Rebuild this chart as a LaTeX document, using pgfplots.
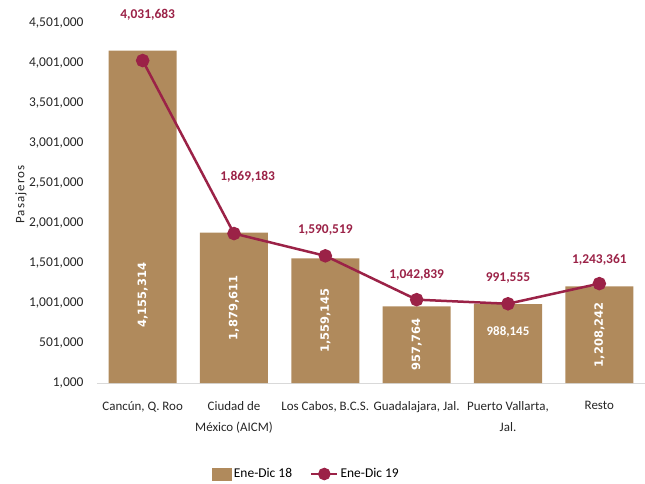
\documentclass[border=0pt]{standalone}
\usepackage{fontspec}
\setmainfont{Carlito}
\newfontfamily\dejavu{DejaVu Sans}
\usepackage{pgfplots}
\pgfplotsset{compat=1.18}
\definecolor{barcol}{HTML}{B08A5C}
\definecolor{linecol}{HTML}{9B2247}
\definecolor{gridcol}{HTML}{D9D9D9}

\begin{document}
\begin{tikzpicture}[x=1bp,y=1bp]
\useasboundingbox (-97bp,-101bp) rectangle (548bp,383bp);
\begin{axis}[
    at={(0,0)}, anchor=south west,
    scale only axis, width=548bp, height=360bp,
    xmin=-0.5, xmax=5.5, ymin=1000, ymax=4501000,
    axis x line*=bottom, axis y line=none,
    clip=false,
    xtick=data,
    xticklabels={Cancún{,} Q. Roo, Ciudad de\\México (AICM), {Los Cabos, B.C.S.}, {Guadalajara, Jal.}, Puerto Vallarta{,}\\Jal., Resto},
    xticklabel style={font=\fontsize{13}{21}\selectfont, align=center, text=black!85, yshift=-15bp},
    x axis line style={draw=gridcol},
    major x tick style={draw=none},
    ytick={1000,501000,...,4501000},
    ymajorgrids, grid style={gridcol, line width=0.8bp},
    legend style={at={(0.382,-0.2528)}, anchor=center, draw=none, legend columns=2,
        font=\fontsize{13.5}{15}\selectfont, /tikz/every even column/.append style={column sep=16bp}},
]
\addplot[fill=barcol, draw=none, ybar, bar width=68bp, bar shift=0,
    legend image code/.code={\fill[barcol] (0bp,-6.5bp) rectangle (20bp,6.5bp);}]
    coordinates {(0,4155314) (1,1879611) (2,1559145) (3,957764) (4,988145) (5,1208242)};
\addlegendentry{Ene-Dic 18}
\addplot[linecol, line width=2.5bp, mark=*, mark size=5.5bp,
    legend image code/.code={\draw[linecol, line width=2.5bp] (0bp,0bp) -- (26bp,0bp);
        \fill[linecol] (13bp,0bp) circle (5bp);}]
    coordinates {(0,4031683) (1,1869183) (2,1590519) (3,1042839) (4,991555) (5,1243361)};
\addlegendentry{Ene-Dic 19}

% y tick labels
\begin{scope}[every node/.style={anchor=east, font=\fontsize{13.5}{15}\selectfont, text=black!85}]
\node at ([xshift=-10bp]axis cs:-0.5,1000) {1,000};
\node at ([xshift=-10bp]axis cs:-0.5,501000) {501,000};
\node at ([xshift=-10bp]axis cs:-0.5,1001000) {1,001,000};
\node at ([xshift=-10bp]axis cs:-0.5,1501000) {1,501,000};
\node at ([xshift=-10bp]axis cs:-0.5,2001000) {2,001,000};
\node at ([xshift=-10bp]axis cs:-0.5,2501000) {2,501,000};
\node at ([xshift=-10bp]axis cs:-0.5,3001000) {3,001,000};
\node at ([xshift=-10bp]axis cs:-0.5,3501000) {3,501,000};
\node at ([xshift=-10bp]axis cs:-0.5,4001000) {4,001,000};
\node at ([xshift=-10bp]axis cs:-0.5,4501000) {4,501,000};
\end{scope}

% y label
\node[rotate=90, font=\fontsize{13}{14}\selectfont\addfontfeatures{LetterSpace=8}, text=black!85] at ([xshift=-76bp]axis cs:-0.5,2355000) {Pasajeros};

% bar value labels
\begin{scope}[every node/.style={text=white, font=\dejavu\bfseries\fontsize{11.5}{13}\selectfont}]
\node[rotate=90] at (axis cs:0,1100000) {4,155,314};
\node[rotate=90] at (axis cs:1,940000) {1,879,611};
\node[rotate=90] at (axis cs:2,780000) {1,559,145};
\node[rotate=90] at (axis cs:3,479000) {957,764};
\node[rotate=90] at (axis cs:5,604000) {1,208,242};
\end{scope}
\node[text=white, font=\bfseries\fontsize{13}{15}\selectfont] at (axis cs:4,640000) {988,145};

% line value labels
\begin{scope}[every node/.style={text=linecol, font=\bfseries\fontsize{13.5}{16}\selectfont}]
\node at (axis cs:0.055,4600000) {4,031,683};
\node at (axis cs:1.15,2575000) {1,869,183};
\node at (axis cs:2,1912000) {1,590,519};
\node at (axis cs:3,1350000) {1,042,839};
\node at (axis cs:4,1312000) {991,555};
\node at (axis cs:5,1537000) {1,243,361};
\end{scope}
\end{axis}
\end{tikzpicture}
\end{document}
